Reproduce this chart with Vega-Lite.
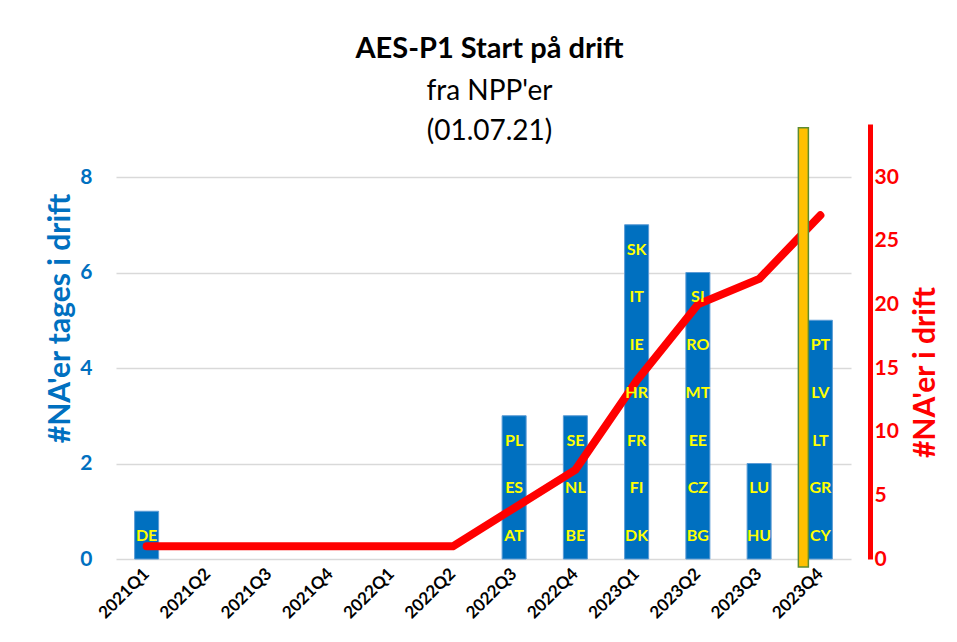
{
  "$schema": "https://vega.github.io/schema/vega-lite/v6.json",
  "autosize": {"type": "none"},
  "width": 735,
  "height": 435,
  "padding": {"left": 116, "top": 124, "right": 106, "bottom": 83},
  "background": "white",
  "config": {
    "font": "Lato",
    "view": {"stroke": null},
    "title": {"font": "Lato", "fontSize": 29, "fontWeight": "bold", "color": "black", "subtitleFont": "Lato", "subtitleFontSize": 28, "subtitleColor": "black", "subtitleLineHeight": 40, "subtitlePadding": 14}
  },
  "title": {"text": "AES-P1 Start på drift", "subtitle": ["fra NPP'er", "(01.07.21)"], "anchor": "middle", "frame": "group", "offset": -22, "dx": 6},
  "datasets": {
    "countries": [
      {"quarter": "2021Q1", "country": "DE", "n": 1},
      {"quarter": "2022Q3", "country": "AT", "n": 1},
      {"quarter": "2022Q3", "country": "ES", "n": 1},
      {"quarter": "2022Q3", "country": "PL", "n": 1},
      {"quarter": "2022Q4", "country": "BE", "n": 1},
      {"quarter": "2022Q4", "country": "NL", "n": 1},
      {"quarter": "2022Q4", "country": "SE", "n": 1},
      {"quarter": "2023Q1", "country": "DK", "n": 1},
      {"quarter": "2023Q1", "country": "FI", "n": 1},
      {"quarter": "2023Q1", "country": "FR", "n": 1},
      {"quarter": "2023Q1", "country": "HR", "n": 1},
      {"quarter": "2023Q1", "country": "IE", "n": 1},
      {"quarter": "2023Q1", "country": "IT", "n": 1},
      {"quarter": "2023Q1", "country": "SK", "n": 1},
      {"quarter": "2023Q2", "country": "BG", "n": 1},
      {"quarter": "2023Q2", "country": "CZ", "n": 1},
      {"quarter": "2023Q2", "country": "EE", "n": 1},
      {"quarter": "2023Q2", "country": "MT", "n": 1},
      {"quarter": "2023Q2", "country": "RO", "n": 1},
      {"quarter": "2023Q2", "country": "SI", "n": 1},
      {"quarter": "2023Q3", "country": "HU", "n": 1},
      {"quarter": "2023Q3", "country": "LU", "n": 1},
      {"quarter": "2023Q4", "country": "CY", "n": 1},
      {"quarter": "2023Q4", "country": "GR", "n": 1},
      {"quarter": "2023Q4", "country": "LT", "n": 1},
      {"quarter": "2023Q4", "country": "LV", "n": 1},
      {"quarter": "2023Q4", "country": "PT", "n": 1}
    ],
    "cumulative": [
      {"quarter": "2021Q1", "total": 1},
      {"quarter": "2021Q2", "total": 1},
      {"quarter": "2021Q3", "total": 1},
      {"quarter": "2021Q4", "total": 1},
      {"quarter": "2022Q1", "total": 1},
      {"quarter": "2022Q2", "total": 1},
      {"quarter": "2022Q3", "total": 4},
      {"quarter": "2022Q4", "total": 7},
      {"quarter": "2023Q1", "total": 14},
      {"quarter": "2023Q2", "total": 20},
      {"quarter": "2023Q3", "total": 22},
      {"quarter": "2023Q4", "total": 27}
    ],
    "marker": [
      {"quarter": "2023Q4", "top": 9.03, "bottom": -0.17}
    ]
  },
  "encoding": {
    "x": {
      "field": "quarter", "type": "nominal",
      "scale": {"domain": ["2021Q1","2021Q2","2021Q3","2021Q4","2022Q1","2022Q2","2022Q3","2022Q4","2023Q1","2023Q2","2023Q3","2023Q4"], "paddingInner": 0.608, "paddingOuter": 0.304},
      "axis": {"title": null, "labelAngle": -45, "labelAlign": "right", "labelBaseline": "middle", "labelPadding": 12, "labelFontSize": 17, "labelFontWeight": "bold", "labelColor": "black", "domain": false, "ticks": false, "grid": false}
    }
  },
  "layer": [
    {
      "data": {"name": "countries"},
      "mark": {"type": "bar", "color": "#0070C0", "stroke": "#5B9BD5", "strokeWidth": 1},
      "encoding": {
        "y": {"aggregate": "sum", "field": "n", "type": "quantitative",
          "scale": {"domain": [0, 9.11], "nice": false, "zero": true},
          "axis": {"orient": "left", "values": [0,2,4,6,8], "title": "#NA'er tages i drift", "titleFontSize": 30, "titleFontWeight": "bold", "titleColor": "#0070C0", "titleAngle": -90, "titleX": -56, "titleY": 194, "titleAlign": "center", "titleBaseline": "middle", "labelFontSize": 21, "labelFontWeight": "bold", "labelColor": "#0070C0", "labelPadding": 24, "domain": false, "ticks": false, "grid": true, "gridColor": "#D9D9D9", "gridWidth": 1.5}
        }
      }
    },
    {
      "data": {"name": "cumulative"},
      "mark": {"type": "line", "color": "#FF0000", "strokeWidth": 8, "strokeCap": "round", "strokeJoin": "round"},
      "encoding": {
        "y": {"field": "total", "type": "quantitative",
          "scale": {"domain": [0, 34.17], "nice": false, "zero": true},
          "axis": {"orient": "right", "values": [0,5,10,15,20,25,30], "offset": 19, "title": "#NA'er i drift", "titleFontSize": 30, "titleFontWeight": "bold", "titleColor": "#FF0000", "titleAngle": -90, "titleX": 55, "titleY": 248, "titleAlign": "center", "titleBaseline": "middle", "labelFontSize": 21, "labelFontWeight": "bold", "labelColor": "#FF0000", "labelPadding": 4, "domain": true, "domainColor": "#FF0000", "domainWidth": 5, "ticks": false, "grid": false}
        }
      }
    },
    {
      "data": {"name": "marker"},
      "mark": {"type": "bar", "color": "#FFC000", "stroke": "#5E8C31", "strokeWidth": 1.5, "width": 10, "xOffset": -17},
      "encoding": {
        "y": {"field": "top", "type": "quantitative", "scale": {"domain": [0, 9.11], "nice": false, "zero": true}, "axis": null},
        "y2": {"field": "bottom"}
      }
    },
    {
      "data": {"name": "countries"},
      "transform": [
        {"stack": "n", "groupby": ["quarter"], "sort": [{"field": "country", "order": "ascending"}], "as": ["y0", "y1"]},
        {"calculate": "(datum.y0 + datum.y1) / 2", "as": "mid"}
      ],
      "mark": {"type": "text", "color": "#FFFF00", "fontSize": 16, "fontWeight": "bold", "baseline": "middle", "align": "center", "dy": 1},
      "encoding": {
        "y": {"field": "mid", "type": "quantitative", "scale": {"domain": [0, 9.11], "nice": false, "zero": true}, "axis": null},
        "text": {"field": "country"}
      }
    }
  ],
  "resolve": {"scale": {"y": "independent"}, "axis": {"y": "independent"}}
}
